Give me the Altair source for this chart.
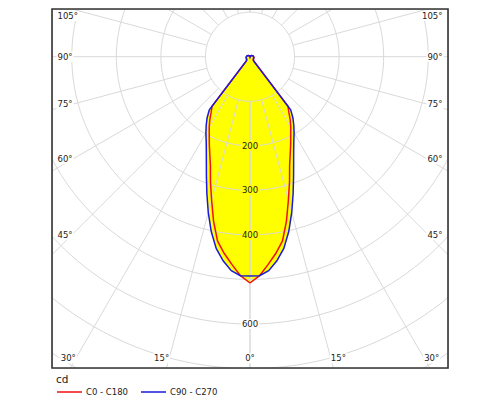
import numpy as np
import pandas as pd
import altair as alt

# ---- data ----
angles = [0, 2.5, 5, 7.5, 10, 12.5, 15, 17.5, 20, 22.5, 25, 27.5, 30, 32.5, 35, 37.5,
          40, 42.5, 45, 50, 60, 75, 90, 105, 120, 135, 150, 165, 180]
c0_c180 = [508, 492, 468, 445, 420, 378, 333, 295, 260, 236, 216, 198, 183, 168, 152, 140,
           15, 11, 10, 10, 9, 9, 8, 7, 5, 3, 2, 1, 0]
c90_c270 = [492, 492, 482, 462, 437, 402, 362, 322, 286, 256, 232, 213, 198, 183, 168, 150,
            16, 12, 11, 10, 9, 9, 8, 7, 5, 3, 2, 1, 0]
series_names = ["C0 - C180", "C90 - C270"]
series_colors = ["#f01010", "#1a1ad8"]
ring_values = [100, 200, 300, 400, 500, 600, 700, 800]
ring_label_values = [200, 300, 400, 600]
spoke_angles = [0, 15, 30, 45, 60, 75, 90, 105, 120, 135, 150, 165, 180]
side_label_angles = [45, 60, 75, 90, 105]
bottom_label_angles = [0, 15, 30]
unit_title = "cd"

# ---- layout constants ----
PX = 0.4455            # px per cd
W = 396                # plot width px
H = 359                # plot height px
CY = 47.7              # centre below plot top, px
XD = [-W / 2 / PX, W / 2 / PX]
YD = [-(H - CY) / PX, CY / PX]
FONT = "DejaVu Sans"
FS = 8.5
GRID = "#d9d9d9"
FILL = "#ffff00"

xs = alt.Scale(domain=XD, nice=False, zero=False)
ys = alt.Scale(domain=YD, nice=False, zero=False)
X = alt.X("x:Q", scale=xs, axis=None)
Y = alt.Y("y:Q", scale=ys, axis=None)

# ---- curve table ----
rows = []
for name, vals in zip(series_names, [c0_c180, c90_c270]):
    pairs = list(zip(angles, vals))
    k = 0
    for a, v in pairs:
        rows.append(dict(series=name, gamma=a, I=v, side=-1, idx=k)); k += 1
    for a, v in reversed(pairs):
        rows.append(dict(series=name, gamma=a, I=v, side=1, idx=k)); k += 1
curve = pd.DataFrame(rows)

to_xy = dict(
    x="datum.side*datum.I*sin(datum.gamma*PI/180)",
    y="-datum.I*cos(datum.gamma*PI/180)",
)

fill = alt.Chart(curve).mark_line(fill=FILL, stroke="transparent", clip=True).encode(
    x=X, y=Y, detail="series:N", order="idx:Q",
).transform_calculate(**to_xy)

# ---- grid ----
phi = np.arange(0, 361, 2)
ring_df = pd.DataFrame([dict(r=r, phi=p) for r in ring_values for p in phi])
rings = alt.Chart(ring_df).mark_line(color=GRID, strokeWidth=1, clip=True).encode(
    x=X, y=Y, detail="r:N", order="phi:Q",
).transform_calculate(
    x="datum.r*sin(datum.phi*PI/180)",
    y="datum.r*cos(datum.phi*PI/180)",
)

spoke_df = pd.DataFrame([dict(gamma=a, side=s) for a in spoke_angles for s in (-1, 1)])
spokes = alt.Chart(spoke_df).mark_rule(color=GRID, strokeWidth=1, clip=True).encode(
    x=X, y=Y, x2="x2:Q", y2="y2:Q",
).transform_calculate(
    x=f"datum.side*{ring_values[0]}*sin(datum.gamma*PI/180)",
    y=f"-{ring_values[0]}*cos(datum.gamma*PI/180)",
    x2="datum.side*1000*sin(datum.gamma*PI/180)",
    y2="-1000*cos(datum.gamma*PI/180)",
)

# ---- curves ----
lines = alt.Chart(curve).mark_line(strokeWidth=1.5, clip=True).encode(
    x=X, y=Y,
    color=alt.Color(
        "series:N",
        scale=alt.Scale(domain=series_names, range=series_colors),
        legend=alt.Legend(
            title=unit_title, orient="none", legendX=4, legendY=366,
            direction="horizontal", symbolType="stroke", symbolSize=625,
            symbolStrokeWidth=1.5, labelFontSize=FS, labelFont=FONT,
            titleFontSize=10.5, titleFont=FONT, titleFontWeight="normal",
            titleColor="#222", labelColor="#222", columnPadding=10,
            labelOffset=3, padding=0, titlePadding=-7,
        ),
    ),
    detail="series:N",
    order="idx:Q",
).transform_calculate(**to_xy)

# ---- labels (with a small background box, like the reference) ----
H_OFF = (W / 2 - 20) / PX       # horizontal reach of side-label anchor (cd)
X_EDGE = (W / 2 - 5.5) / PX     # side labels inset from the frame (cd)
Y_TOP = (CY - 7) / PX           # keep top label inside the frame
Y_BOT = (H - CY - 9.7) / PX     # bottom labels above the frame (cd)
CW = 0.636 * FS                 # digit width px
DW = 0.5 * FS                   # degree-sign width px


def label_layers(df, calc, align, deg=True, bg="white"):
    wexpr = (f"((length(datum.t)-1)*{CW}+{DW})" if deg else f"(length(datum.t)*{CW})")
    if align == "left":
        x1, x2 = f"datum.x-1/{PX}", f"datum.x+({wexpr}+1)/{PX}"
    elif align == "right":
        x1, x2 = f"datum.x-({wexpr}+1)/{PX}", f"datum.x+1/{PX}"
    else:
        x1, x2 = f"datum.x-({wexpr}/2+1)/{PX}", f"datum.x+({wexpr}/2+1)/{PX}"
    base = alt.Chart(df).transform_calculate(**calc).transform_calculate(
        bx1=x1, bx2=x2, by1=f"datum.y-5/{PX}", by2=f"datum.y+5/{PX}"
    )
    box = base.mark_rect(color=bg).encode(
        x=alt.X("bx1:Q", scale=xs, axis=None), x2="bx2:Q",
        y=alt.Y("by1:Q", scale=ys, axis=None), y2="by2:Q",
    )
    txt = base.mark_text(
        align=align, baseline="middle", font=FONT, fontSize=FS, color="#222"
    ).encode(x=X, y=Y, text="t:N")
    return [box, txt]


side_df = pd.DataFrame([dict(a=a, side=s, t=f"{a}°") for a in side_label_angles for s in (-1, 1)])
side_calc = dict(
    x=f"datum.side*{X_EDGE}",
    y=f"min(-{H_OFF}*cos(datum.a*PI/180)/sin(datum.a*PI/180), {Y_TOP})",
)
left_labels = label_layers(side_df[side_df.side < 0], side_calc, "left")
right_labels = label_layers(side_df[side_df.side > 0], side_calc, "right")

bot_df = pd.DataFrame([dict(a=a, side=s, t=f"{a}°") for a in bottom_label_angles for s in (-1, 1)])
bot_calc = dict(x=f"datum.side*{Y_BOT}*tan(datum.a*PI/180)", y=f"-{Y_BOT}")
bl = label_layers(bot_df[(bot_df.a > 0) & (bot_df.side < 0)], bot_calc, "right")
br = label_layers(bot_df[(bot_df.a > 0) & (bot_df.side > 0)], bot_calc, "left")
bc = label_layers(bot_df[(bot_df.a == 0) & (bot_df.side > 0)], bot_calc, "center")

val_df = pd.DataFrame(dict(r=ring_label_values, t=[str(v) for v in ring_label_values]))
val_calc = dict(x="0", y="-datum.r")
inner_vals = label_layers(val_df[val_df.r < 500], val_calc, "center", deg=False, bg=FILL)
outer_vals = label_layers(val_df[val_df.r > 500], val_calc, "center", deg=False, bg="white")

# ---- frame around the plot area ----
frame = alt.Chart(pd.DataFrame({"f": [0]})).mark_rect(
    fill="transparent", stroke="#333333", strokeWidth=1.6
).encode(x=alt.value(0), x2=alt.value(W), y=alt.value(0), y2=alt.value(H))

chart = alt.layer(
    fill, rings, spokes, lines,
    *left_labels, *right_labels, *bl, *br, *bc, *inner_vals, *outer_vals, frame,
).properties(
    width=W, height=H, autosize="none",
    padding={"left": 44, "top": 1, "right": 44, "bottom": 30},
).configure_view(stroke=None).configure(background="white")

chart.save("out.html", embed_options={"renderer": "svg", "actions": False})
